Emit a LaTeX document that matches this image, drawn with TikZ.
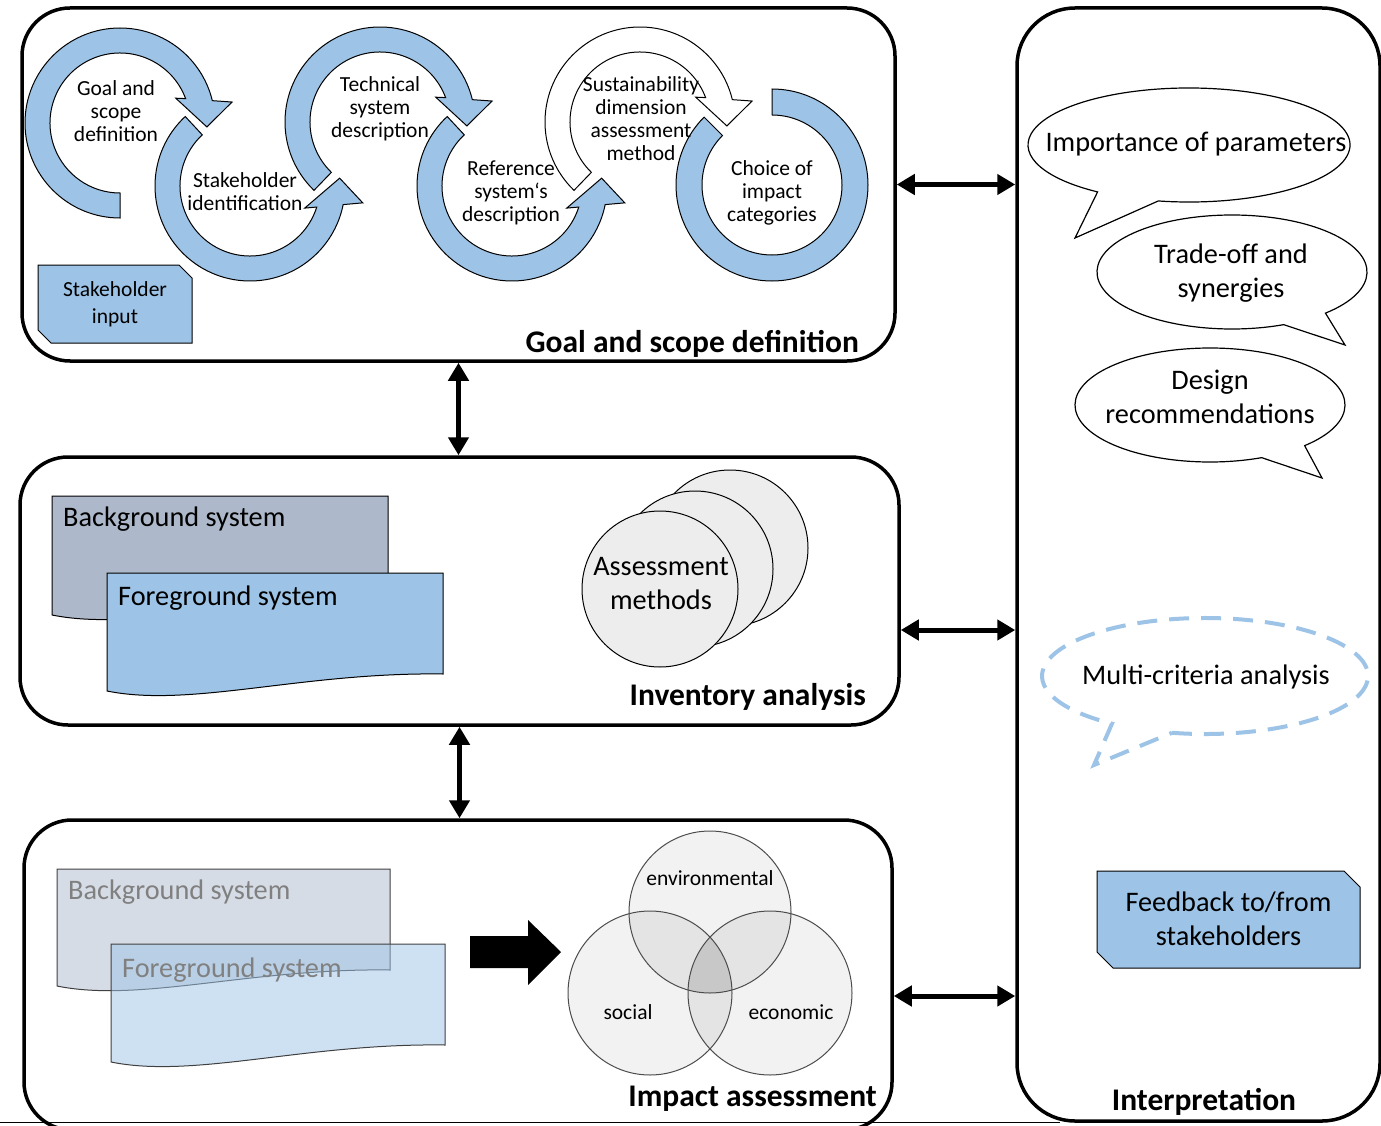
\documentclass[tikz,border=0pt]{standalone}
\usepackage{fontspec}
\setmainfont{Carlito}
\usetikzlibrary{arrows.meta,calc}
\definecolor{ringblue}{HTML}{9DC3E6}
\definecolor{bgsys}{HTML}{ADB9CA}
\definecolor{bgfaint}{HTML}{D6DCE5}
\definecolor{circgray}{HTML}{EDEDED}
\definecolor{vennone}{HTML}{F2F2F2}
\definecolor{venntwo}{HTML}{E4E4E4}
\definecolor{vennthree}{HTML}{C8C8C8}
\definecolor{fadetext}{HTML}{808080}
\newcommand{\fmain}{\fontsize{28.3}{34}\selectfont}
\newcommand{\fring}{\fontsize{21.5}{23}\selectfont}
\newcommand{\fhead}{\fontsize{31.5}{36}\selectfont\bfseries}
% ring arrow: center, style, tail angle, outer arc end, outer barb, tip, inner barb, inner arc end
\newcommand{\ringarr}[8]{\draw[#2] ($(#1)+(#3:95)$) arc[start angle=#3, end angle=#4, radius=95] -- ($(#1)+(#5)$) -- ($(#1)+(#6)$) -- ($(#1)+(#7)$) -- ($(#1)+(#8:70)$) arc[start angle=#8, end angle=#3, radius=70] -- cycle;}
% document shape: style, x0, x1, ytop, yleftbottom, yrightbottom (pixel values, y down)
\newcommand{\docshape}[6]{\draw[#1] (#2,-#4) -- (#3,-#4) -- (#3,-#6) .. controls ({#2+0.58*(#3-#2)},{-#6+2}) and ({#2+0.25*(#3-#2)},{-#5-17}) .. (#2,-#5) -- cycle;}
% snipped box: x0, x1, ytop, ybottom, chamfer (pixel values, y down)
\newcommand{\snipbox}[5]{\draw[snip] (#1,-#3) -- ({#2-#5},-#3) -- (#2,{-#3-#5}) -- (#2,-#4) -- ({#1+#5},-#4) -- (#1,{-#4+#5}) -- cycle;}
\begin{document}
\begin{tikzpicture}[x=1pt,y=1pt,
  panel/.style={draw=black, line width=3.5pt, rectangle, rounded corners=48pt, inner sep=0pt},
  ringA/.style={fill=ringblue, draw=black, line width=1pt},
  ringW/.style={fill=white, draw=black, line width=1pt},
  dbl/.style={{Triangle[length=18pt,width=20pt]}-{Triangle[length=18pt,width=20pt]}, line width=5pt},
  txt/.style={inner sep=0pt, align=center, font=\fmain},
  rtxt/.style={inner sep=0pt, align=center, font=\fring},
  head/.style={inner sep=0pt, font=\fhead},
  bubble/.style={draw=black, line width=1.2pt, fill=white},
  dbubble/.style={draw=ringblue, line width=4pt, dash pattern=on 20pt off 12pt},
  snip/.style={fill=ringblue, draw=black, line width=1pt},
  vcirc/.style={draw=black!70, line width=1pt},
  acirc/.style={fill=circgray, draw=black, line width=1pt}
]
\useasboundingbox (0,0) rectangle (1381,-1126);
\clip (0,0) rectangle (1381,-1126);

% ---------- panels ----------
\node[panel, minimum width=873pt, minimum height=353pt] (gs) at (458.5,-184.5) {};
\node[panel, minimum width=879pt, minimum height=268pt] (inv) at (459.5,-591) {};
\node[panel, minimum width=868pt, minimum height=310pt] (imp) at (458,-975) {};
\node[panel, rounded corners=58pt, minimum width=363pt, minimum height=1113pt] (interp) at (1198.5,-564.5) {};
\draw[line width=1.5pt] (0,-1122.5) -- (1060,-1122.5);

\node[head, anchor=base east] (gslab) at (859,-352) {Goal and scope definition};
\node[head, anchor=base east] (invlab) at (866,-705) {Inventory analysis};
\node[head, anchor=base east] (implab) at (877,-1106) {Impact assessment};
\node[head, anchor=base] (intlab) at (1204,-1110) {Interpretation};

% ---------- connectors ----------
\coordinate (hA) at (0,-630);
\coordinate (hB) at (0,-996);
\draw[dbl] (gs.south) -- (gs.south |- inv.north);
\draw[dbl] (inv.south) -- (inv.south |- imp.north);
\draw[dbl] (gs.east) -- (gs.east -| interp.west);
\draw[dbl] (inv.east |- hA) -- (interp.west |- hA);
\draw[dbl] (imp.east |- hB) -- (interp.west |- hB);

% ---------- ring arrows ----------
\coordinate (c1) at (120,-123);
\coordinate (c2) at (250,-186);
\coordinate (c3) at (380,-122);
\coordinate (c4) at (512,-186);
\coordinate (c5) at (640,-122);
\coordinate (c6) at (772,-185);
\ringarr{c1}{ringA}{270}{13.6}{10.6:114}{-2.6:87}{24:61}{20.4}
\ringarr{c2}{ringA}{133}{348.7}{351.5:114}{5:90}{338:59}{342.5}
\ringarr{c3}{ringA}{226}{13.6}{10.6:114}{-2.6:87}{24:61}{20.4}
\ringarr{c4}{ringA}{133}{348.7}{351.5:114}{5:90}{338:59}{342.5}
\ringarr{c5}{ringW}{226}{13.6}{10.6:114}{-2.6:87}{24:61}{20.4}
\draw[ringA] ($(c6)+(90:96)$) arc[start angle=90, end angle=-225, radius=96] -- ($(c6)+(-225:70)$) arc[start angle=-225, end angle=90, radius=70] -- cycle;

\node[rtxt] (r1t) at (116,-111) {Goal and\\scope\\definition};
\node[rtxt] (r2t) at (245,-192) {Stakeholder\\identification};
\node[rtxt] (r3t) at (380,-109) {Technical\\system\\description};
\node[rtxt] (r4t) at (511,-193) {Reference\\system‘s\\description};
\node[rtxt] (r5t) at (641,-119) {Sustainability\\dimension\\assessment\\method};
\node[rtxt] (r6t) at (772,-193) {Choice of\\impact\\categories};

\snipbox{38}{192}{265}{343}{13}
\node[inner sep=0pt, align=center, font=\fontsize{21.5}{27}\selectfont] (sinput) at (115,-304) {Stakeholder\\input};

% ---------- inventory analysis ----------
\docshape{fill=bgsys, draw=black, line width=1pt}{52}{388}{496}{615}{598}
\docshape{fill=ringblue, draw=black, line width=1pt}{107}{443}{573}{691}{674}
\node[txt, anchor=west] (bgt) at (63,-519) {Background system};
\node[txt, anchor=west] (fgt) at (118,-598) {Foreground system};

\draw[acirc] (730,-548) circle (78);
\draw[acirc] (695,-569) circle (78);
\draw[acirc] (660,-589) circle (78);
\node[txt] (amt) at (661,-584) {Assessment\\methods};

% ---------- impact assessment ----------
\docshape{fill=bgfaint, draw=black!75, line width=1pt}{57}{390}{869}{986}{970}
\node[txt, anchor=west, text=fadetext] (bgf) at (68,-892) {Background system};
\docshape{fill=ringblue, fill opacity=0.5, draw=black!75, line width=1pt}{111}{445}{944}{1062}{1045}
\node[txt, anchor=west, text=fadetext] (fgf) at (122,-970) {Foreground system};

\fill[black] (470,-936) -- (528,-936) -- (528,-920) -- (561,-952) -- (528,-985) -- (528,-968) -- (470,-968) -- cycle;

\coordinate (ve) at (710,-912);
\coordinate (vs) at (650,-993);
\coordinate (vc) at (770,-993);
\fill[vennone] (ve) circle (81);
\fill[vennone] (vs) circle (82);
\fill[vennone] (vc) circle (82);
\begin{scope}\clip (ve) circle (81); \fill[venntwo] (vs) circle (82); \fill[venntwo] (vc) circle (82);\end{scope}
\begin{scope}\clip (vs) circle (82); \fill[venntwo] (vc) circle (82);\end{scope}
\begin{scope}\clip (ve) circle (81); \clip (vs) circle (82); \fill[vennthree] (vc) circle (82);\end{scope}
\draw[vcirc] (ve) circle (81);
\draw[vcirc] (vs) circle (82);
\draw[vcirc] (vc) circle (82);
\node[rtxt] (venv) at (710,-878) {environmental};
\node[rtxt] (vsoc) at (628,-1012) {social};
\node[rtxt] (veco) at (791,-1012) {economic};

% ---------- interpretation ----------
\coordinate (bA) at (1189,-145);
\coordinate (bB) at (1232,-272);
\coordinate (bC) at (1210,-405);
\coordinate (bD) at (1205,-676);
\draw[bubble] ($(bA)+(259:161 and 57)$) arc[start angle=259, end angle=595.4, x radius=161, y radius=57] -- (1075,-238) -- cycle;
\draw[bubble] ($(bB)+(313.8:135 and 57)$) arc[start angle=313.8, end angle=652.5, x radius=135, y radius=57] -- (1345,-345) -- cycle;
\draw[bubble] ($(bC)+(314.5:135 and 57)$) arc[start angle=314.5, end angle=652.5, x radius=135, y radius=57] -- (1322,-478) -- cycle;
\draw[dbubble] ($(bD)+(258.3:163 and 58)$) arc[start angle=258.3, end angle=595.2, x radius=163, y radius=58] -- (1094,-765) -- cycle;

\node[txt] (tA) at (1196,-144) {Importance of parameters};
\node[txt] (tB) at (1231,-273) {Trade-off and\\synergies};
\node[txt] (tC) at (1210,-397) {Design\\recommendations};
\node[txt] (tD) at (1206,-677) {Multi-criteria analysis};

\snipbox{1097}{1360}{871}{968}{16}
\node[txt] (fb) at (1228.5,-919) {Feedback to/from\\stakeholders};
\end{tikzpicture}
\end{document}
